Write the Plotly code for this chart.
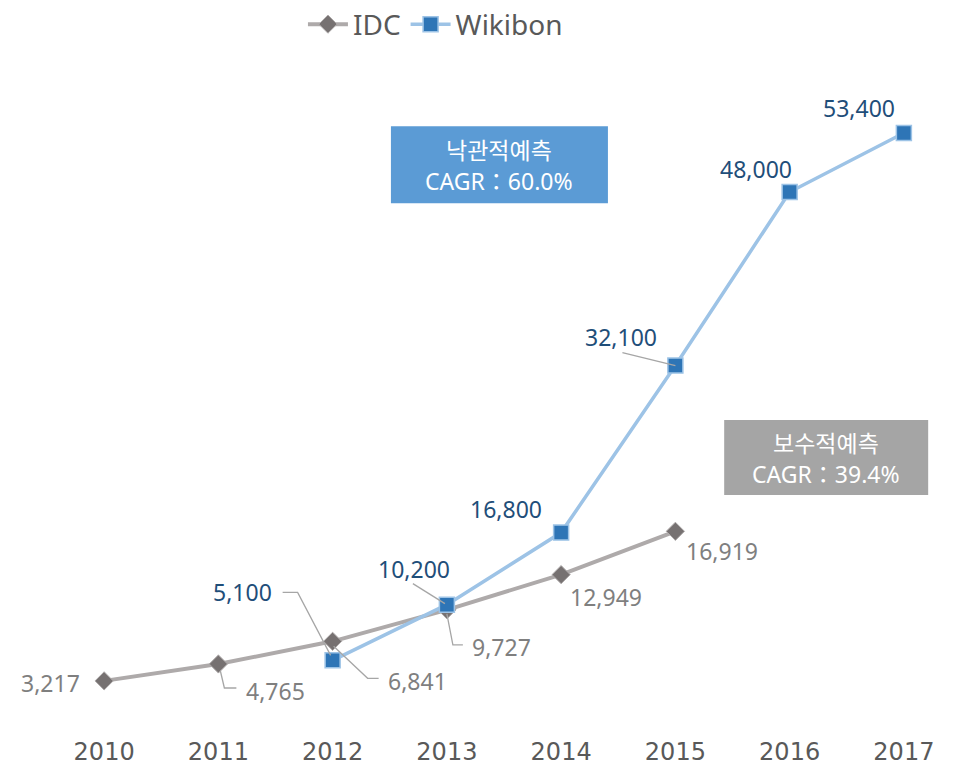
import plotly.graph_objects as go

# ---- data ----
years = [2010, 2011, 2012, 2013, 2014, 2015, 2016, 2017]
idc_years = [2010, 2011, 2012, 2013, 2014, 2015]
idc_values = [3217, 4765, 6841, 9727, 12949, 16919]
wiki_years = [2012, 2013, 2014, 2015, 2016, 2017]
wiki_values = [5100, 10200, 16800, 32100, 48000, 53400]
tick_labels = ["2010", "2011", "2012", "2013", "2014", "2015", "2016", "2017"]
box_opt_title = "낙관적예측"
box_opt_cagr = "CAGR：60.0%"
box_cons_title = "보수적예측"
box_cons_cagr = "CAGR：39.4%"

# ---- styles ----
IDC_LINE = "#AEAAAA"
IDC_MARK = "#767171"
IDC_LABEL = "#7F7F7F"
WIKI_LINE = "#9DC3E6"
WIKI_MARK = "#2E75B6"
WIKI_LABEL = "#1F4E79"
LEADER = "#A6A6A6"
FONT = "Noto Sans, Noto Sans CJK KR, sans-serif"
KFONT = "Noto Sans CJK KR, Noto Sans, sans-serif"

# label offsets in screen pixels (dx right, dy down) from point to label centre
idc_off = [(-54, 2), (57, 27), (85, 40), (55, 37), (45, 22), (47, 20)]
wiki_off = [(-90, -68), (-33, -36), (-55, -24), (-54, -29), (-34, -23), (-45, -25)]
# leader-line paths (screen pixel offsets from the point, dy down); None = no leader
idc_lead = [None, [(2, 7), (6, 24), (18, 24)], [(1, 5), (35, 37), (46, 37)],
            [(0, 4), (6, 35), (16, 35)], None, None]
wiki_lead = [[(-2, -5), (-35, -68), (-50, -68)], [(-2, -1), (-34, -21)], None,
             [(0, 0), (-53, -13)], None, None]

fig = go.Figure()
fig.add_trace(go.Scatter(
    x=idc_years, y=idc_values, name="IDC", mode="lines+markers",
    line=dict(color=IDC_LINE, width=4),
    marker=dict(symbol="diamond", size=14, color=IDC_MARK, line=dict(color=IDC_LINE, width=1)),
))
fig.add_trace(go.Scatter(
    x=wiki_years, y=wiki_values, name="Wikibon", mode="lines+markers",
    line=dict(color=WIKI_LINE, width=3.5),
    marker=dict(symbol="square", size=15, color=WIKI_MARK, line=dict(color=WIKI_LINE, width=1.5)),
))

annotations = []
shapes = []


def add_labels(xs, vs, offs, leads, color):
    for x, v, (dx, dy), lead in zip(xs, vs, offs, leads):
        annotations.append(dict(
            x=x, y=v, xref="x", yref="y", text=f"{v:,}", showarrow=False,
            xshift=dx, yshift=-dy,
            font=dict(family=FONT, size=23, color=color),
        ))
        if lead:
            path = "M " + " L ".join(f"{px},{-py}" for px, py in lead)
            shapes.append(dict(
                type="path", path=path, xref="x", yref="y",
                xsizemode="pixel", ysizemode="pixel", xanchor=x, yanchor=v,
                line=dict(color=LEADER, width=1.3), layer="above",
            ))


add_labels(idc_years, idc_values, idc_off, idc_lead, IDC_LABEL)
add_labels(wiki_years, wiki_values, wiki_off, wiki_lead, WIKI_LABEL)


def add_box(xc, yc, w, h, color, title, cagr):
    shapes.append(dict(
        type="rect", xref="x", yref="y", xsizemode="pixel", ysizemode="pixel",
        xanchor=xc, yanchor=yc, x0=-w / 2, x1=w / 2, y0=-h / 2, y1=h / 2,
        fillcolor=color, line=dict(width=0), layer="above",
    ))
    annotations.append(dict(
        x=xc, y=yc, xref="x", yref="y", text=title, showarrow=False, yshift=16,
        font=dict(family=KFONT, size=23, color="white"),
    ))
    annotations.append(dict(
        x=xc, y=yc, xref="x", yref="y", text=cagr, showarrow=False, yshift=-16,
        font=dict(family=FONT, size=23, color="white"),
    ))


add_box(2013.46, 50500, 217, 77, "#5B9BD5", box_opt_title, box_opt_cagr)
add_box(2016.32, 23670, 204, 75, "#A5A5A5", box_cons_title, box_cons_cagr)

fig.update_layout(
    width=961, height=767,
    margin=dict(l=39, r=8, t=53, b=59, autoexpand=False),
    paper_bgcolor="white", plot_bgcolor="white",
    showlegend=True,
    legend=dict(orientation="h", x=0.425, xanchor="center", y=1.094, yref="paper", yanchor="top",
                font=dict(family=FONT, size=28, color="#595959"), itemwidth=40,
                bgcolor="rgba(0,0,0,0)"),
    annotations=annotations,
    shapes=shapes,
    xaxis=dict(range=[2009.5, 2017.5], tickvals=years, ticktext=tick_labels,
               showgrid=False, zeroline=False, showline=False, ticks="",
               ticklabelstandoff=19, automargin=False,
               tickfont=dict(family="DejaVu Sans", size=24, color="#595959")),
    yaxis=dict(range=[0, 60000], visible=False, showgrid=False, zeroline=False, automargin=False),
)

fig.write_html("out.html")
